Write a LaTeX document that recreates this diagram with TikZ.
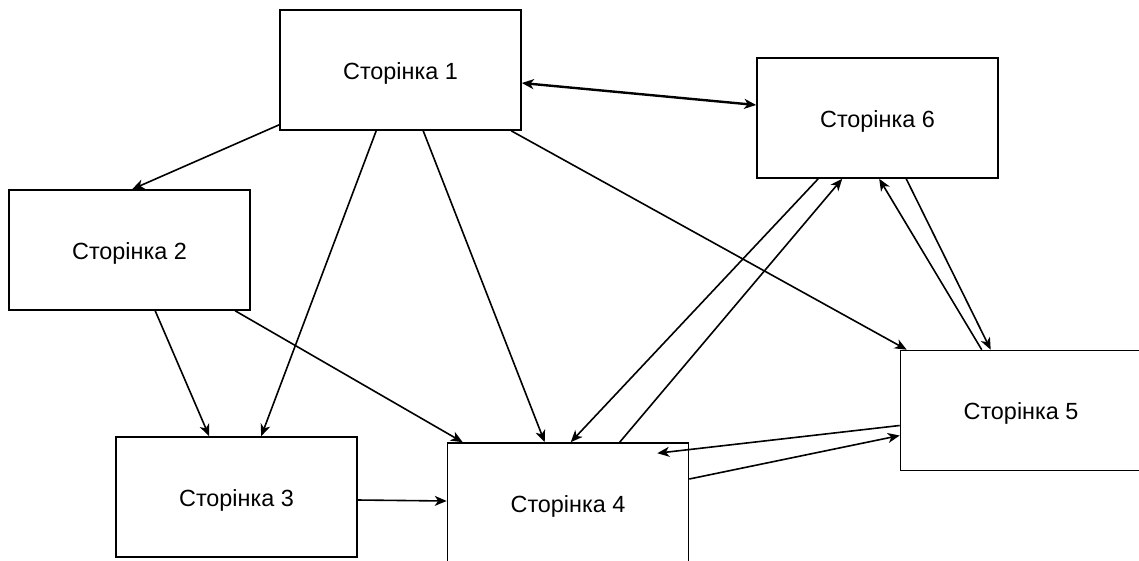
\documentclass[tikz,border=0pt]{standalone}
\usepackage{fontspec}
\setmainfont{Liberation Sans}
\usetikzlibrary{calc,arrows.meta}
\newcommand{\pg}[1]{\raisebox{-3pt}[\height][\depth]{#1}}
\begin{document}
\begin{tikzpicture}[x=1pt,y=-1pt,
  page/.style={draw=black,line width=1.6pt,fill=white,minimum width=241pt,minimum height=120pt,inner sep=0pt,font=\fontsize{23.4}{27}\selectfont},
  arr/.style={draw=black,line width=1.6pt,-{Stealth[length=12pt,width=10pt,inset=3.5pt]}},
  darr/.style={draw=black,line width=2.4pt,{Stealth[length=12pt,width=10pt,inset=3.5pt]}-{Stealth[length=12pt,width=10pt,inset=3.5pt]}}]
\useasboundingbox (0,0) rectangle (1139,560);
\fill[white] (0,0) rectangle (1139,560);
\node[page] (b1) at (400.5,70) {\pg{Сторінка 1}};
\node[page] (b2) at (129.5,250) {\pg{Сторінка 2}};
\node[page] (b3) at (236.5,497) {\pg{Сторінка 3}};
\node[page] (b4) at (568,503) {\pg{Сторінка 4}};
\node[page] (b5) at (1021,410.5) {\pg{Сторінка 5}};
\node[page] (b6) at (877.5,118) {\pg{Сторінка 6}};
\draw[darr] ($(b1.east)+(0,13)$) -- ($(b6.west)+(0,-13)$);
\draw[arr] ($(b1.south west)+(0,-6)$) -- ($(b2.north west)+(124,0)$);
\draw[arr] ($(b1.south west)+(97,0)$) -- ($(b3.north west)+(146,0)$);
\draw[arr] ($(b1.south west)+(144,0)$) -- ($(b4.north west)+(98,0)$);
\draw[arr] ($(b1.south west)+(232,0)$) -- ($(b5.north west)+(7,0)$);
\draw[arr] ($(b2.south west)+(147,0)$) -- ($(b3.north west)+(94,0)$);
\draw[arr] ($(b2.south west)+(227,0)$) -- ($(b4.north west)+(16,0)$);
\draw[arr] ($(b3.east)+(0,3)$) -- ($(b4.west)+(0,-2)$);
\draw[arr] ($(b6.south west)+(62,0)$) -- ($(b4.north west)+(124,0)$);
\draw[arr] ($(b4.north west)+(173,0)$) -- ($(b6.south west)+(86,0)$);
\draw[arr] ($(b5.north west)+(82,0)$) -- ($(b6.south west)+(123,0)$);
\draw[arr] ($(b6.south west)+(150,0)$) -- ($(b5.north west)+(91,0)$);
\draw[arr] ($(b5.west)+(0,15)$) -- ($(b4.north east)+(-32,11)$);
\draw[arr] ($(b4.east)+(0,-24)$) -- ($(b5.west)+(0,25)$);
\end{tikzpicture}
\end{document}
